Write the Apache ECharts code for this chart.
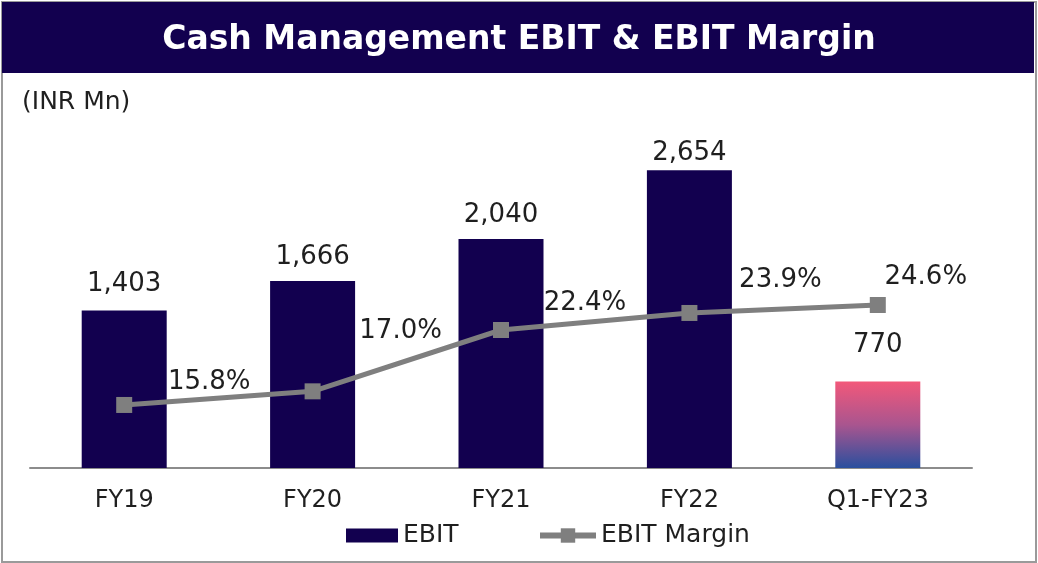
<!DOCTYPE html>
<html>
<head>
<meta charset="utf-8">
<script src="https://cdn.jsdelivr.net/npm/echarts@6/dist/echarts.min.js"></script>
<style>
  html, body { margin: 0; padding: 0; background: #fff; }
  #chart { width: 1038px; height: 563px; }
</style>
</head>
<body>
<div id="chart"></div>
<script>
// data
const categories = ['FY19', 'FY20', 'FY21', 'FY22', 'Q1-FY23']
const ebit = [1403, 1666, 2040, 2654, 770]
const ebitMargin = [15.8, 17.0, 22.4, 23.9, 24.6]

// label nudges (label placement in the source is hand-adjusted)
const barLabelOffsets = [[0, -6], [0, -4], [0, -4], [0, 3], [0, -16]]
const lineLabelOffsets = [[85, -23], [88, -60], [84, -27], [91, -33], [48, -28]]

const FONT = '"DejaVu Sans", sans-serif'
const TEXT = '#1f1f1f'
const chart = echarts.init(document.getElementById('chart'))

const gradient = new echarts.graphic.LinearGradient(0, 0, 0, 1, [
  { offset: 0, color: '#f2587a' },
  { offset: 0.5, color: '#a9558f' },
  { offset: 1, color: '#2a4f9e' }
])

const legendText = { fontSize: 25, color: TEXT, fontFamily: FONT }

const option = {
  backgroundColor: '#fff',
  textStyle: { fontFamily: FONT },
  graphic: [
    {
      type: 'rect', left: 1, top: 1, z: -10,
      shape: { width: 1034, height: 560 },
      style: { fill: '#fff', stroke: '#9a9a9a', lineWidth: 2 }
    },
    {
      type: 'rect', left: 2, top: 2, z: -5,
      shape: { width: 1032, height: 71 },
      style: { fill: '#12004f' }
    },
    {
      type: 'text', left: 'center', top: 24,
      style: { text: 'Cash Management EBIT & EBIT Margin', fill: '#fff', font: 'bold 33px ' + FONT }
    },
    {
      type: 'text', left: 22, top: 90,
      style: { text: '(INR Mn)', fill: TEXT, font: '25px ' + FONT }
    }
  ],
  legend: [
    {
      bottom: 10, left: 341,
      itemWidth: 52, itemHeight: 14,
      textStyle: legendText,
      data: [{ name: 'EBIT', icon: 'rect' }]
    },
    {
      bottom: 10, left: 532,
      itemWidth: 56, itemHeight: 18,
      textStyle: legendText,
      data: [{ name: 'EBIT Margin', lineStyle: { width: 6 } }]
    }
  ],
  grid: { left: 30, right: 66, top: 100, bottom: 95 },
  xAxis: {
    type: 'category',
    data: categories,
    axisTick: { show: false },
    axisLine: { lineStyle: { color: '#8c8c8c', width: 2 } },
    axisLabel: { fontSize: 24, color: TEXT, margin: 21, fontFamily: FONT }
  },
  yAxis: [
    { type: 'value', min: 0, max: 3280, show: false, splitLine: { show: false } },
    { type: 'value', min: 10.25, max: 42.65, show: false, splitLine: { show: false } }
  ],
  series: [
    {
      name: 'EBIT',
      type: 'bar',
      barWidth: 85,
      itemStyle: { color: '#12004f' },
      data: ebit.map((v, i) => ({
        value: v,
        itemStyle: i === ebit.length - 1 ? { color: gradient } : undefined,
        label: { offset: barLabelOffsets[i] }
      })),
      label: {
        show: true,
        position: 'top',
        distance: 7,
        fontSize: 26,
        color: TEXT,
        fontFamily: FONT,
        formatter: p => p.value.toLocaleString('en-US')
      }
    },
    {
      name: 'EBIT Margin',
      type: 'line',
      yAxisIndex: 1,
      symbol: 'rect',
      symbolSize: 16,
      lineStyle: { color: '#7f7f7f', width: 5 },
      itemStyle: { color: '#7f7f7f' },
      data: ebitMargin.map((v, i) => ({
        value: v,
        label: { offset: lineLabelOffsets[i] }
      })),
      label: {
        show: true,
        position: 'inside',
        fontSize: 26,
        color: TEXT,
        fontFamily: FONT,
        formatter: p => p.value.toFixed(1) + '%'
      }
    }
  ]
}

chart.setOption(option)
</script>
</body>
</html>
